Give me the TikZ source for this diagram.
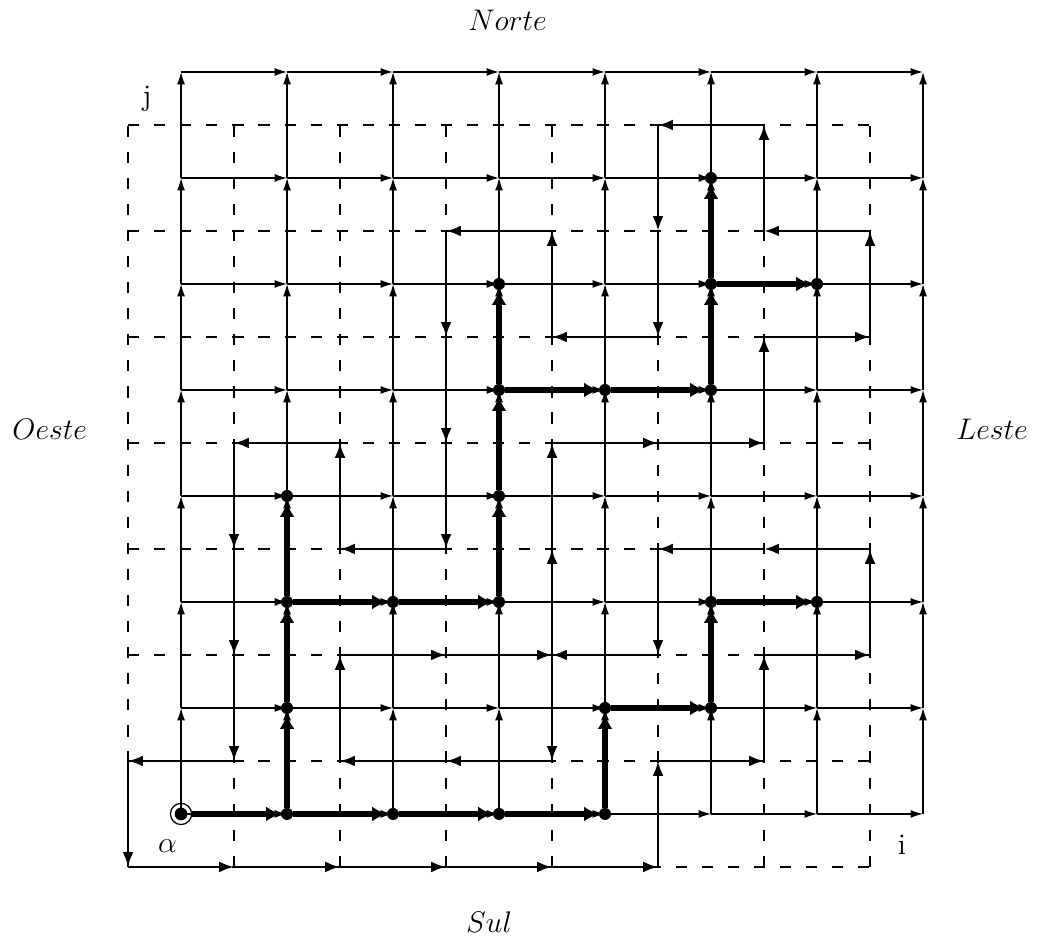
\documentclass[tikz,border=0pt]{standalone}
\usepackage{amsmath,amssymb}
\usetikzlibrary{arrows.meta}

\begin{document}
\begin{tikzpicture}[
  x=1.5cm, y=1.5cm,
  grid edge/.style={line width=0.5pt, -{Latex[length=5pt,width=3.2pt]}},
  dual grid/.style={line width=0.8pt, dash pattern=on 4.5pt off 6pt},
  contour/.style={line width=1.1pt, -{Latex[length=6pt,width=4.4pt]}},
  tree edge/.style={line width=2.7pt, -{Latex[length=6pt,width=6pt]}},
  vertex/.style={circle, fill, inner sep=0pt, outer sep=0pt, minimum size=0.17cm},
  root/.style={circle, draw, line width=0.5pt, inner sep=0pt, outer sep=0pt, minimum size=0.3cm,
    path picture={\fill (path picture bounding box.center) circle (0.09cm);}},
  lbl/.style={font=\large, inner sep=0pt, anchor=base west}
]
\useasboundingbox (-1.708,-1.170) rectangle (8.113,7.679);

\foreach \i in {0,...,7}
  \foreach \j in {0,...,7} {
    \coordinate (p\i\j) at (\i,\j);
    \coordinate (d\i\j) at (\i-0.5,\j-0.5);
  }

\foreach \i in {0,...,7}
  \foreach \j [count=\k from 1] in {0,...,6} {
    \draw[grid edge] (p\j\i) -- (p\k\i);
    \draw[grid edge] (p\i\j) -- (p\i\k);
  }

\foreach \i in {0,...,7} {
  \draw[dual grid] (d\i0) -- (d\i7);
  \draw[dual grid] (d0\i) -- (d7\i);
}

\foreach \cur [remember=\cur as \prev (initially d00)] in
  {d10,d20,d30,d40,d50,d51,d61,d62,d72,d73,d63,d53,d52,d42,d41,d31,d21,d22,d32,d42,
   d43,d44,d54,d64,d65,d75,d76,d66,d67,d57,d56,d55,d45,d46,d36,d35,d34,d33,d23,d24,
   d14,d13,d12,d11,d01,d00}
  \draw[contour] (\prev) -- (\cur);

\node[root] (t00) at (p00) {};
\foreach \cur in {10,20,30,40,11,12,13,22,32,33,34,35,44,54,55,56,65,41,51,52,62}
  \node[vertex] (t\cur) at (p\cur) {};
\foreach \src/\dst in {00/10,10/20,20/30,30/40,10/11,11/12,12/13,12/22,22/32,32/33,
  33/34,34/35,34/44,44/54,54/55,55/56,55/65,40/41,41/51,51/52,52/62}
  \draw[tree edge] (t\src) -- (t\dst);

\node[lbl] (north) at (2.705,7.387) {$Norte$};
\node[lbl] (south) at (2.686,-1.123) {$Sul$};
\node[lbl] (west) at (-1.595,3.528) {$Oeste$};
\node[lbl] (east) at (7.311,3.528) {$Leste$};
\node[lbl, anchor=base] (jlabel) at (-0.32,6.679) {j};
\node[lbl, anchor=base] (ilabel) at (6.80,-0.387) {i};
\node[lbl, anchor=base] (alpha) at (-0.127,-0.368) {$\alpha$};
\end{tikzpicture}
\end{document}
